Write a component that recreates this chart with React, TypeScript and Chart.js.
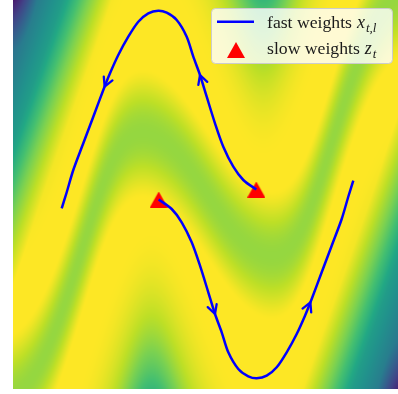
import React, { useEffect, useRef } from "react";
import { Chart, registerables } from "chart.js";

Chart.register(...registerables);

// ---- data ----
const FAST_UPPER_X = [0.488, 0.358, 0.258, 0.158, 0.075, -0.008, -0.075, -0.142, -0.208, -0.308, -0.408, -0.492, -0.592, -0.692, -0.792, -0.892, -0.975, -1.042, -1.142, -1.242, -1.342, -1.41, -1.458];
const FAST_UPPER_Y = [0.05, 0.145, 0.278, 0.478, 0.712, 0.978, 1.195, 1.378, 1.578, 1.745, 1.818, 1.838, 1.812, 1.728, 1.578, 1.395, 1.212, 1.045, 0.778, 0.512, 0.245, 0.015, -0.138];
const FAST_LOWER_X = [-0.488, -0.358, -0.258, -0.158, -0.075, 0.008, 0.075, 0.142, 0.208, 0.308, 0.408, 0.492, 0.592, 0.692, 0.792, 0.892, 0.975, 1.042, 1.142, 1.242, 1.342, 1.41, 1.458];
const FAST_LOWER_Y = [-0.05, -0.145, -0.278, -0.478, -0.712, -0.978, -1.195, -1.378, -1.578, -1.745, -1.818, -1.838, -1.812, -1.728, -1.578, -1.395, -1.212, -1.045, -0.778, -0.512, -0.245, -0.015, 0.138];
const SLOW_X = [0.488, -0.488];
const SLOW_Y = [0.05, -0.05];
const ARROW_AT = [6, 16.8];
const X_MIN = -1.945, X_MAX = 1.905;
const Y_MIN = -1.945, Y_MAX = 1.945;

// ---- loss landscape shown as background ----
const HALF_GAP = 0.94;
const CORNER_L = [0, 0.12, 0.5, 0.75, 1.0];
const CORNER_Z = [0.05, 0.35, 0.55, 0.8, 1.0];
function ridge(u: number) {
  return 0.938 * Math.sin(2.7 * u) - 0.166 * u * u * u;
}
function ridgeSlope(u: number) {
  return 0.938 * 2.7 * Math.cos(2.7 * u) - 0.498 * u * u;
}
function valleyLine(u: number) {
  return ridge(u) * (1 - 0.4 * Math.exp(-Math.pow(u / 0.9, 4)));
}
function cornerLevel(l: number) {
  if (l <= 0) return CORNER_Z[0];
  for (let i = 1; i < CORNER_L.length; i++) {
    if (l <= CORNER_L[i]) {
      const f = (l - CORNER_L[i - 1]) / (CORNER_L[i] - CORNER_L[i - 1]);
      return CORNER_Z[i - 1] + f * (CORNER_Z[i] - CORNER_Z[i - 1]);
    }
  }
  return 1;
}
function landscape(u: number, w: number) {
  const phi = -w - ridge(u);
  const t = phi / HALF_GAP;
  let zb: number;
  if (Math.abs(t) <= 1) {
    const dv = (-w - valleyLine(u)) / 0.65;
    const g = Math.pow(Math.max(0, 1 - dv * dv), 1.6);
    zb = 1 - 0.16 * g;
  } else {
    const ev = Math.max(0, Math.abs(phi) - HALF_GAP - 0.3);
    const sl = ridgeSlope(u);
    const kappa = 1 / (1 + (sl / 3) ** 2);
    zb = 1 - 0.13 * kappa * ev * ev;
  }
  const l1 = (u - X_MIN) + 0.35 * (Y_MAX - w);
  const l2 = (-u - X_MIN) + 0.35 * (Y_MAX + w);
  const zc = cornerLevel(Math.min(l1, l2));
  return Math.max(0, Math.min(1, zb, zc));
}

const VIRIDIS = [
  [68, 1, 84], [72, 36, 117], [65, 68, 135], [53, 95, 141], [42, 120, 142],
  [33, 145, 140], [34, 168, 132], [68, 191, 112], [122, 209, 81], [189, 223, 38], [253, 231, 37],
];
function viridis(z: number) {
  const s = z * 10;
  const i = Math.min(9, Math.floor(s));
  const f = s - i;
  const a = VIRIDIS[i], b = VIRIDIS[i + 1];
  return [a[0] + (b[0] - a[0]) * f, a[1] + (b[1] - a[1]) * f, a[2] + (b[2] - a[2]) * f];
}

function makeTriangle() {
  const c = document.createElement("canvas");
  c.width = 18;
  c.height = 16;
  const g = c.getContext("2d")!;
  g.fillStyle = "#ff0000";
  g.beginPath();
  g.moveTo(9, 0);
  g.lineTo(18, 16);
  g.lineTo(0, 16);
  g.closePath();
  g.fill();
  return c;
}

const heatmapPlugin = {
  id: "heatmap",
  beforeDatasetsDraw(chart: any) {
    const { ctx, chartArea: a, scales } = chart;
    const xs = scales.x, ys = scales.y;
    const w = Math.round(a.right - a.left), h = Math.round(a.bottom - a.top);
    const off = document.createElement("canvas");
    off.width = w;
    off.height = h;
    const octx = off.getContext("2d")!;
    const img = octx.createImageData(w, h);
    for (let j = 0; j < h; j++) {
      const v = ys.getValueForPixel(a.top + j + 0.5);
      for (let i = 0; i < w; i++) {
        const u = xs.getValueForPixel(a.left + i + 0.5);
        const c = viridis(landscape(u, v));
        const k = (j * w + i) * 4;
        img.data[k] = c[0];
        img.data[k + 1] = c[1];
        img.data[k + 2] = c[2];
        img.data[k + 3] = 255;
      }
    }
    octx.putImageData(img, 0, 0);
    ctx.drawImage(off, a.left, a.top);
  },
};

const arrowPlugin = {
  id: "arrows",
  afterDatasetsDraw(chart: any) {
    const ctx = chart.ctx;
    [0, 1].forEach((di) => {
      const pts = chart.getDatasetMeta(di).data;
      ARROW_AT.forEach((f) => {
        const i0 = Math.floor(f);
        const fr = f - i0;
        const p0 = pts[i0], p1 = pts[Math.min(pts.length - 1, i0 + 1)];
        const tx = p0.x + (p1.x - p0.x) * fr;
        const ty = p0.y + (p1.y - p0.y) * fr;
        const pa = pts[Math.max(0, i0 - 1)], pb = pts[Math.min(pts.length - 1, i0 + 1)];
        let dx = pb.x - pa.x, dy = pb.y - pa.y;
        const L = Math.hypot(dx, dy);
        dx /= L;
        dy /= L;
        const ang = (28 * Math.PI) / 180;
        const len = 10;
        ctx.save();
        ctx.strokeStyle = "#0000ff";
        ctx.lineWidth = 2.3;
        ctx.lineCap = "round";
        ctx.beginPath();
        for (const sgn of [1, -1]) {
          const c = Math.cos(sgn * ang), s = Math.sin(sgn * ang);
          const bx = -dx * c + dy * s;
          const by = -dx * s - dy * c;
          ctx.moveTo(tx + bx * len, ty + by * len);
          ctx.lineTo(tx, ty);
        }
        ctx.stroke();
        ctx.restore();
      });
    });
  },
};

function legendPlugin(tri: HTMLCanvasElement) {
  return {
    id: "customLegend",
    afterDraw(chart: any) {
      const ctx = chart.ctx;
      ctx.save();
      const x0 = 211.5, y0 = 8.5, w = 181, h = 55, r = 4;
      ctx.beginPath();
      ctx.moveTo(x0 + r, y0);
      ctx.arcTo(x0 + w, y0, x0 + w, y0 + h, r);
      ctx.arcTo(x0 + w, y0 + h, x0, y0 + h, r);
      ctx.arcTo(x0, y0 + h, x0, y0, r);
      ctx.arcTo(x0, y0, x0 + w, y0, r);
      ctx.closePath();
      ctx.fillStyle = "rgba(255,255,255,0.8)";
      ctx.fill();
      ctx.strokeStyle = "#cccccc";
      ctx.lineWidth = 1;
      ctx.stroke();

      ctx.strokeStyle = "#0000ff";
      ctx.lineWidth = 2.5;
      ctx.beginPath();
      ctx.moveTo(217, 21.7);
      ctx.lineTo(254, 21.7);
      ctx.stroke();
      ctx.drawImage(tri, 236 - 9, 50 - 8);

      ctx.fillStyle = "#1a1a1a";
      ctx.textBaseline = "alphabetic";
      const main = '17.7px "Liberation Serif", serif';
      const ital = 'italic 18px "Liberation Serif", serif';
      const sub = 'italic 13px "Liberation Serif", serif';
      const row = (label: string, v: string, s: string, base: number) => {
        ctx.font = main;
        ctx.fillText(label, 267, base);
        let x = 267 + ctx.measureText(label).width + 5;
        ctx.font = ital;
        ctx.fillText(v, x, base);
        x += ctx.measureText(v).width + 1;
        ctx.font = sub;
        ctx.fillText(s, x, base + 3.5);
      };
      row("fast weights", "x", "t,l", 28);
      row("slow weights", "z", "t", 54);
      ctx.restore();
    },
  };
}

export default function App() {
  const ref = useRef<HTMLCanvasElement>(null);
  useEffect(() => {
    const tri = makeTriangle();
    const upper = FAST_UPPER_X.map((x, i) => ({ x, y: FAST_UPPER_Y[i] }));
    const lower = FAST_LOWER_X.map((x, i) => ({ x, y: FAST_LOWER_Y[i] }));
    const slow = SLOW_X.map((x, i) => ({ x, y: SLOW_Y[i] }));
    const lineStyle = {
      showLine: true,
      borderColor: "#0000ff",
      backgroundColor: "#0000ff",
      borderWidth: 2.5,
      pointRadius: 0,
      tension: 0.3,
      order: 1,
    };
    const chart = new Chart(ref.current!, {
      type: "scatter",
      data: {
        datasets: [
          { label: "fast weights", data: upper, ...lineStyle },
          { label: "fast weights (2)", data: lower, ...lineStyle },
          {
            label: "slow weights",
            data: slow,
            showLine: false,
            pointStyle: tri as any,
            pointRadius: 9,
            backgroundColor: "#ff0000",
            borderColor: "#ff0000",
            order: 2,
          },
        ],
      } as any,
      options: {
        animation: false,
        responsive: false,
        devicePixelRatio: 1,
        events: [],
        layout: { autoPadding: false, padding: { left: 13, right: 0, top: 0, bottom: 5 } },
        scales: {
          x: { type: "linear", min: X_MIN, max: X_MAX, display: false },
          y: { type: "linear", min: Y_MIN, max: Y_MAX, display: false },
        },
        plugins: { legend: { display: false }, tooltip: { enabled: false } },
      },
      plugins: [heatmapPlugin, arrowPlugin, legendPlugin(tri)],
    } as any);
    return () => chart.destroy();
  }, []);
  return (
    <div style={{ position: "fixed", left: 0, top: 0, width: 398, height: 394, background: "#fff" }}>
      <canvas ref={ref} width={398} height={394} style={{ display: "block", width: 398, height: 394 }} />
    </div>
  );
}
